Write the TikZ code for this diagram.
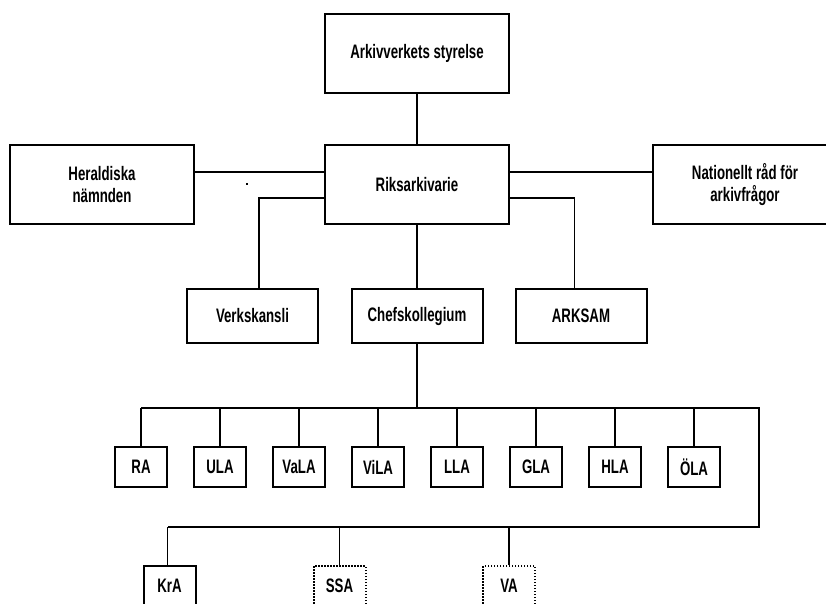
\documentclass[tikz,border=0pt]{standalone}
\usepackage{fontspec}
\newfontfamily\orgfont{Liberation Sans}[FakeStretch=0.68]
\usepackage{tikz}
\usetikzlibrary{arrows,shapes,positioning,fit,arrows.meta,backgrounds,calc}

\begin{document}
\begin{tikzpicture}[x=1pt,y=-1pt,
  font=\orgfont\bfseries\fontsize{19.5}{21.5}\selectfont,
  bigbox/.style={draw,line width=2pt,inner sep=0pt,align=center,minimum width=184pt,minimum height=79pt},
  midbox/.style={draw,line width=2pt,inner sep=0pt,minimum width=131pt,minimum height=54pt},
  unitbox/.style={draw,line width=2pt,inner sep=0pt,minimum width=52pt,minimum height=40pt},
  dotbox/.style={unitbox,dash pattern=on 1.5pt off 1.5pt},
  link/.style={line width=1.5pt}]
\useasboundingbox (0,0) rectangle (826,603);

\node[bigbox] (styrelse) at (417,53.5) {Arkivverkets styrelse};
\node[bigbox] (riks) at (417,184.5) {Riksarkivarie};
\node[bigbox] (herald) at (102,184.5) {Heraldiska\\nämnden};
\node[bigbox] (radet) at (745,184.5) {Nationellt råd för\\arkivfrågor};

\node[midbox] (verk) at (252.5,316) {Verkskansli};
\node[midbox] (chef) at (417,316) {Chefskollegium};
\node[midbox] (arksam) at (581,316) {ARKSAM};

\node[unitbox] (ra) at (141,467) {RA};
\node[unitbox] (ula) at (220,467) {ULA};
\node[unitbox] (vala) at (299,467) {VaLA};
\node[unitbox] (vila) at (378,467) {ViLA};
\node[unitbox] (lla) at (457,467) {LLA};
\node[unitbox] (gla) at (536,467) {GLA};
\node[unitbox] (hla) at (615,467) {HLA};
\node[unitbox] (ola) at (694,467) {ÖLA};

\node[unitbox] (kra) at (169.5,586) {KrA};
\node[dotbox] (ssa) at (339.5,586) {SSA};
\node[dotbox] (va) at (509,586) {VA};

\coordinate (bus) at (417,408);
\coordinate (busR) at (759,408);
\coordinate (lowR) at (759,527);
\coordinate (lowL) at (167.5,527);

\draw[link] (styrelse) -- (riks);
\draw[link] ([yshift=12.5pt]herald.east) -- ([yshift=12.5pt]riks.west);
\draw[link] ([yshift=12.5pt]riks.east) -- ([yshift=12.5pt]radet.west);
\draw[link] ([yshift=-13.5pt]riks.west) -| ([xshift=6.5pt]verk.north);
\draw[link] ([yshift=-13.5pt]riks.east) -| ([xshift=-6.5pt]arksam.north);
\draw[link] (riks) -- (chef);
\draw[link] (chef) -- (bus);

\draw[link] (ra.north |- bus) -- (busR) -- (lowR) -- (lowL);
\draw[link] (ra) -- (ra.north |- bus);
\draw[link] (ula) -- (ula.north |- bus);
\draw[link] (vala) -- (vala.north |- bus);
\draw[link] (vila) -- (vila.north |- bus);
\draw[link] (lla) -- (lla.north |- bus);
\draw[link] (gla) -- (gla.north |- bus);
\draw[link] (hla) -- (hla.north |- bus);
\draw[link] (ola) -- (ola.north |- bus);

\draw[link] ([xshift=-2pt]kra.north) -- (lowL);
\draw[link] (ssa) -- (ssa.north |- lowL);
\draw[link] (va) -- (va.north |- lowL);

\fill (245.5,183) rectangle (247.5,185);
\end{tikzpicture}
\end{document}
